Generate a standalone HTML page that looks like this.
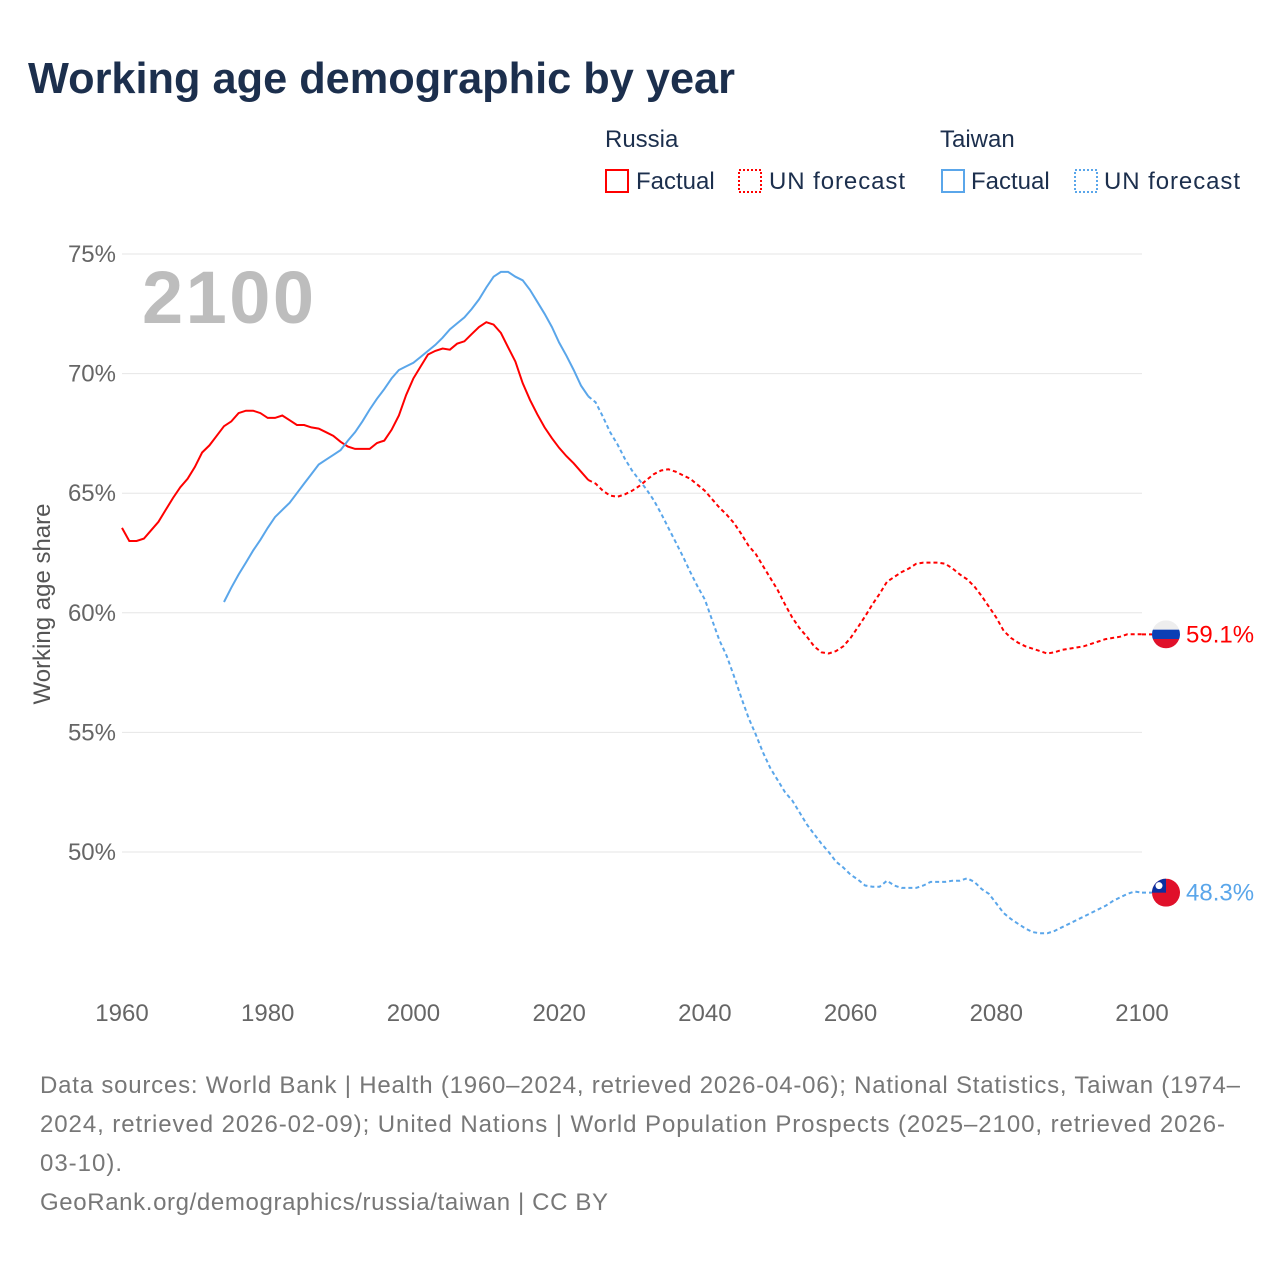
<!DOCTYPE html>
<html><head><meta charset="utf-8">
<style>
body{margin:0;background:#fff;font-family:"Liberation Sans",sans-serif;}
#wrap{position:relative;width:1280px;height:1280px;overflow:hidden;}
</style></head>
<body>
<div id="wrap">
<svg id="chart" width="1280" height="1280" xmlns="http://www.w3.org/2000/svg">
<text x="28" y="93" font-size="44" font-weight="bold" fill="#1c2f4d" textLength="707" lengthAdjust="spacingAndGlyphs">Working age demographic by year</text>
<g font-size="24" fill="#1c2f4d">
<text x="605" y="147">Russia</text>
<rect x="606" y="170" width="22" height="22" fill="none" stroke="#f00" stroke-width="2"/>
<text x="636" y="189">Factual</text>
<rect x="739" y="170" width="22" height="22" fill="none" stroke="#f00" stroke-width="2" stroke-dasharray="2,2"/>
<text x="769" y="189" textLength="136">UN forecast</text>
<text x="940" y="147">Taiwan</text>
<rect x="942" y="170" width="22" height="22" fill="none" stroke="#5aa6ea" stroke-width="2"/>
<text x="971" y="189">Factual</text>
<rect x="1075" y="170" width="22" height="22" fill="none" stroke="#5aa6ea" stroke-width="2" stroke-dasharray="2,2"/>
<text x="1104" y="189" textLength="136">UN forecast</text>
</g>
<text x="142" y="323" font-size="74" font-weight="bold" fill="#bdbdbd" textLength="172">2100</text>
<text transform="translate(50,604) rotate(-90)" text-anchor="middle" font-size="24" fill="#555">Working age share</text>
<g id="grid"></g><g id="xt"></g><g id="lines"></g><g id="ends"></g>
<g font-size="24" fill="#777">
<text x="40" y="1093" textLength="1200">Data sources: World Bank | Health (1960–2024, retrieved 2026-04-06); National Statistics, Taiwan (1974–</text>
<text x="40" y="1132" textLength="1185">2024, retrieved 2026-02-09); United Nations | World Population Prospects (2025–2100, retrieved 2026-</text>
<text x="40" y="1171" textLength="82">03-10).</text>
<text x="40" y="1210" textLength="568">GeoRank.org/demographics/russia/taiwan | CC BY</text>
</g>
</svg>
</div>
<script>
const yTicks=[50,55,60,65,70,75];
const xTicks=[1960,1980,2000,2020,2040,2060,2080,2100];
const russiaStart=1960;
const russiaVals=[63.55,63.0,63.0,63.1,63.45,63.8,64.3,64.8,65.25,65.6,66.1,66.7,67.0,67.4,67.8,68.0,68.35,68.45,68.45,68.35,68.15,68.15,68.25,68.05,67.85,67.85,67.75,67.7,67.55,67.4,67.15,66.95,66.85,66.85,66.85,67.1,67.2,67.65,68.25,69.1,69.8,70.3,70.8,70.95,71.05,71.0,71.25,71.35,71.65,71.95,72.15,72.05,71.7,71.1,70.5,69.6,68.9,68.3,67.75,67.3,66.9,66.55,66.25,65.9,65.55,
65.4,65.1,64.9,64.85,64.95,65.1,65.3,65.55,65.8,65.95,66.0,65.9,65.75,65.6,65.35,65.1,64.75,64.4,64.1,63.75,63.3,62.8,62.45,61.95,61.45,60.95,60.35,59.8,59.35,59.0,58.6,58.35,58.3,58.4,58.6,58.95,59.4,59.85,60.35,60.8,61.3,61.5,61.7,61.85,62.05,62.1,62.1,62.1,62.05,61.85,61.6,61.4,61.1,60.7,60.25,59.8,59.25,58.95,58.75,58.6,58.5,58.4,58.3,58.35,58.45,58.5,58.55,58.6,58.7,58.8,58.9,58.95,59.0,59.1,59.1,59.1];
const taiwanStart=1974;
const taiwanVals=[60.45,61.05,61.6,62.1,62.6,63.05,63.55,64.0,64.3,64.6,65.0,65.4,65.8,66.2,66.4,66.6,66.8,67.2,67.55,68.0,68.5,68.95,69.35,69.8,70.15,70.3,70.45,70.7,70.95,71.2,71.5,71.85,72.1,72.35,72.7,73.1,73.6,74.05,74.25,74.25,74.05,73.9,73.5,73.0,72.5,71.95,71.3,70.75,70.15,69.5,69.05,
68.8,68.2,67.55,67.05,66.45,65.95,65.55,65.15,64.7,64.15,63.55,62.95,62.35,61.7,61.1,60.55,59.7,58.85,58.2,57.35,56.45,55.6,54.9,54.15,53.5,53.0,52.5,52.15,51.65,51.15,50.75,50.35,50.0,49.6,49.35,49.05,48.85,48.6,48.55,48.55,48.8,48.6,48.5,48.5,48.5,48.6,48.75,48.75,48.75,48.8,48.8,48.9,48.75,48.45,48.25,47.85,47.45,47.2,47.0,46.8,46.65,46.6,46.6,46.7,46.85,47.0,47.15,47.3,47.45,47.6,47.75,47.95,48.1,48.25,48.35,48.3];
const forecastStart=2024;
const NS="http://www.w3.org/2000/svg";
const X=y=>122+(y-1960)*(1020/140);
const Y=v=>852-(v-50)*(598/25);
function mk(t,a,p){const e=document.createElementNS(NS,t);for(const k in a)e.setAttribute(k,a[k]);p.appendChild(e);return e;}
const grid=document.getElementById('grid');
yTicks.forEach(v=>{
 const l=mk('line',{x1:122,x2:1142,y1:Y(v),y2:Y(v),stroke:'#e6e6e6','stroke-width':1},grid);
 
 
 const t=mk('text',{x:116,y:Y(v)+8,'text-anchor':'end','font-size':24,fill:'#666'},grid);
 t.textContent=v+'%';
 
 
});
const xt=document.getElementById('xt');
xTicks.forEach(v=>{
 const t=mk('text',{x:X(v),y:1021,'text-anchor':'middle','font-size':24,fill:'#666'},xt);
 t.textContent=v;
 
 
});
const lines=document.getElementById('lines');
function series(start,vals,color,name){
 let f='',d='';
 vals.forEach((v,i)=>{const yr=start+i;const pt=X(yr).toFixed(1)+','+Y(v).toFixed(1);
  if(yr<=forecastStart)f+=(f?'L':'M')+pt;
  if(yr>=forecastStart)d+=(d?'L':'M')+pt;});
 const a=mk('path',{d:d,fill:'none',stroke:color,'stroke-width':2,'stroke-dasharray':'4,3'},lines);
 
 
 const b=mk('path',{d:f,fill:'none',stroke:color,'stroke-width':2},lines);
 
 
}
series(russiaStart,russiaVals,'#f00','russia');
series(taiwanStart,taiwanVals,'#5aa6ea','taiwan');
const ends=document.getElementById('ends');
function endMark(vals,color,name,flag){
 const v=vals[vals.length-1],y=Y(v);
 const g=mk('g',{},ends);
 
 
 mk('line',{x1:X(2100),x2:1152,y1:y,y2:y,stroke:color,'stroke-width':2,'stroke-dasharray':'4,3'},g);
 const cx=1166,r=14;
 const cp=mk('clipPath',{id:'cp'+name},g);mk('circle',{cx:cx,cy:y,r:r},cp);
 const fg=mk('g',{'clip-path':'url(#cp'+name+')'},g);
 if(flag==='ru'){
  mk('rect',{x:cx-r,y:y-r,width:2*r,height:28/3,fill:'#eee'},fg);
  mk('rect',{x:cx-r,y:y-r+28/3,width:2*r,height:28/3,fill:'#0b3fb5'},fg);
  mk('rect',{x:cx-r,y:y-r+56/3,width:2*r,height:28/3,fill:'#e0102a'},fg);
 }else{
  mk('rect',{x:cx-r,y:y-r,width:2*r,height:2*r,fill:'#e0102a'},fg);
  mk('rect',{x:cx-r,y:y-r,width:r,height:r,fill:'#0b2fa0'},fg);
  mk('circle',{cx:cx-r/2,cy:y-r/2,r:3.5,fill:'#fff'},fg);
 }
 const t=mk('text',{x:1186,y:y+8,'font-size':24,fill:color},g);
 t.textContent=v.toFixed(1)+'%';
 
 
}
endMark(russiaVals,'#f00','russia','ru');
endMark(taiwanVals,'#5aa6ea','taiwan','tw');
</script>
</body></html>
